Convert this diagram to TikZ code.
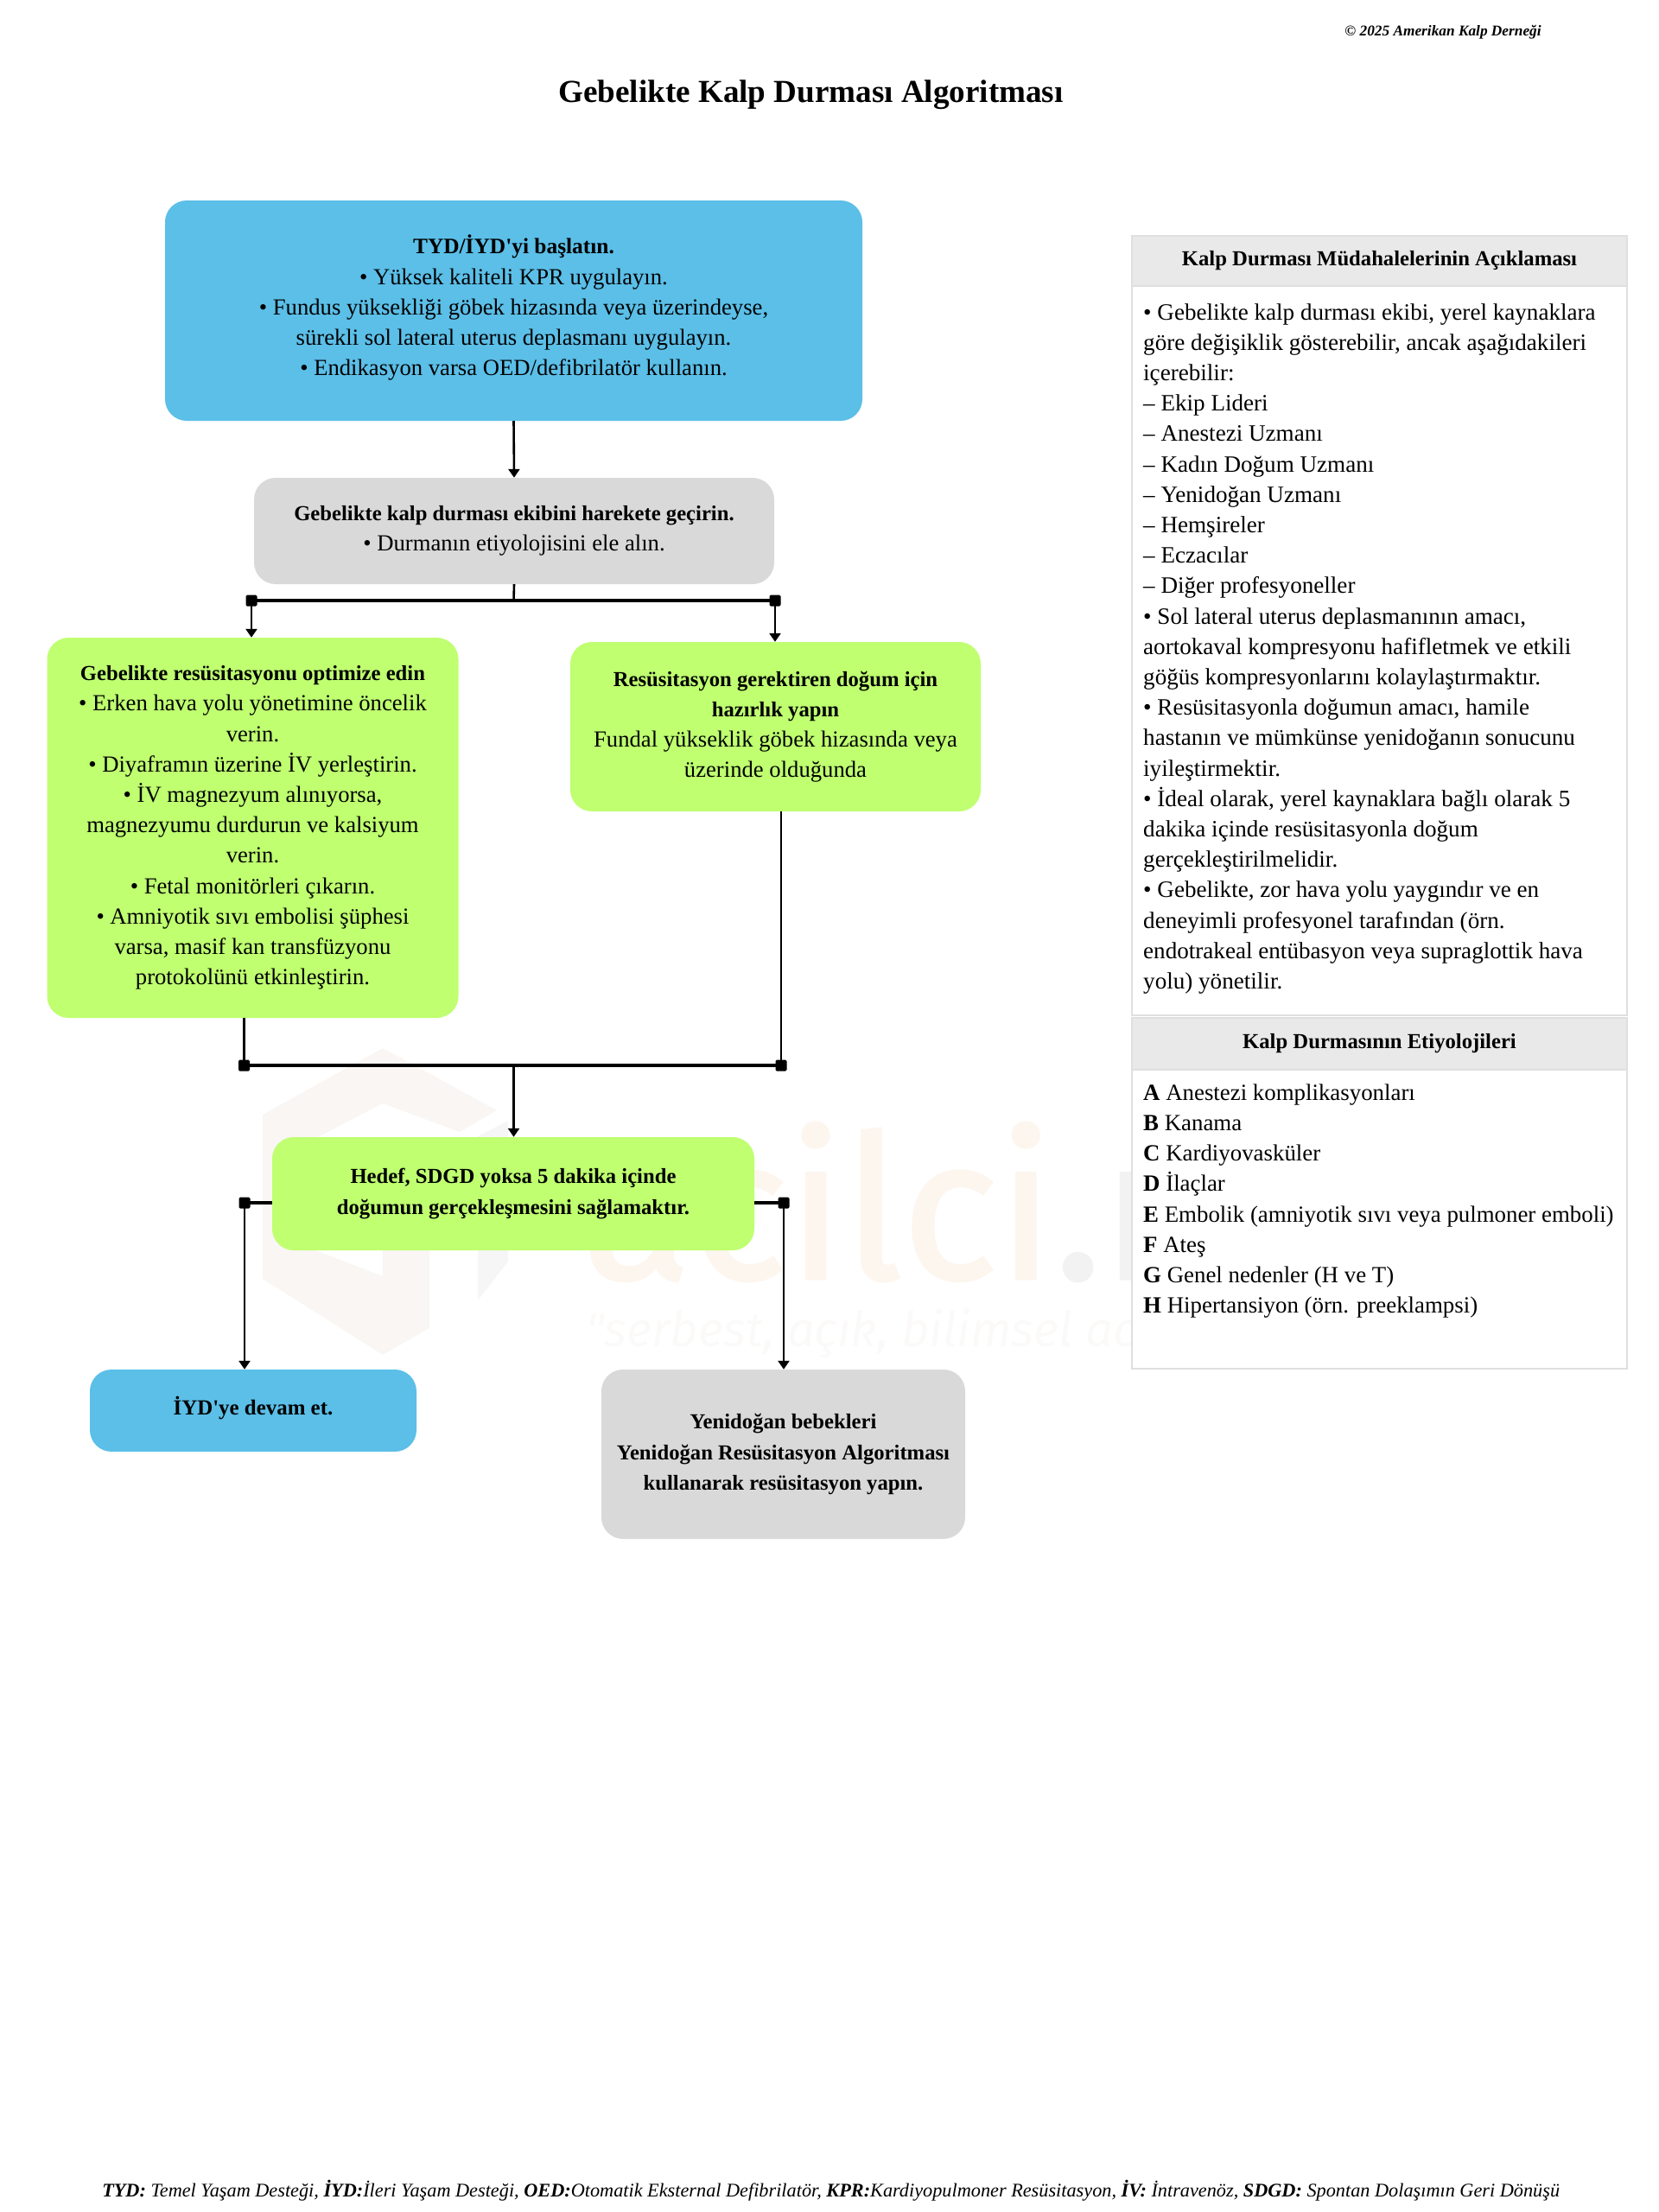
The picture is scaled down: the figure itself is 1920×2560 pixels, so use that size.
\documentclass[tikz,border=0pt]{standalone}
\usepackage{fontspec}
\usetikzlibrary{arrows.meta}
\newfontfamily\ser{Liberation Serif}
\newfontfamily\wmfont[RawFeature={embolden=1.4}]{Fira Sans}
\newfontfamily\wmtag{Fira Sans}
\definecolor{cblue}{HTML}{5BBFE8}
\definecolor{cgreen}{HTML}{BFFF70}
\definecolor{cgray}{HTML}{D9D9D9}
\definecolor{chead}{HTML}{E9E9E9}
\definecolor{cline}{HTML}{DFDFDF}
\definecolor{wmo}{HTML}{FDF6EF}
\definecolor{wmg}{HTML}{F3F2F2}
\definecolor{wmt}{HTML}{FBFAF9}
\definecolor{wml}{HTML}{F9F6F3}
\newcommand{\bh}[1]{{\bfseries\fontsize{24.67}{35.2}\selectfont #1}}
\tikzset{
  boxn/.style={rectangle,rounded corners=25pt,inner sep=0pt,align=center,
    font=\ser\fontsize{26.67}{35.2}\selectfont,text=black},
  panelhead/.style={rectangle,draw=cline,line width=2pt,fill=chead,inner sep=0pt,
    font=\ser\bfseries\fontsize{24.67}{35.2}\selectfont},
  panelbody/.style={rectangle,draw=cline,line width=2pt,fill=white},
  paneltext/.style={anchor=north west,inner sep=0pt,align=left,
    font=\ser\fontsize{27.1}{35.2}\selectfont},
  junc/.style={rectangle,fill=black,minimum size=13pt,inner sep=0pt,rounded corners=1.5pt},
  conn/.style={line width=2.6pt,draw=black},
  bar/.style={line width=3.6pt,draw=black},
  arr/.style={conn,-{Triangle[width=13pt,length=10pt]}}
}
\begin{document}
\begin{tikzpicture}[x=1pt,y=-1pt]
\useasboundingbox (0,0) rectangle (1920,2560);
% watermark
\fill[wml] (304,1290)--(443,1213)--(575,1285)--(532,1310)--(443,1277)--(360,1320)--cycle;
\fill[wml] (304,1290)--(360,1320)--(360,1445)--(443,1477)--(443,1568)--(304,1480)--cycle;
\fill[wml] (443,1440)--(497,1440)--(497,1537)--(443,1568)--cycle;
\fill[wmg!70!white] (553,1315)--(588,1297)--(588,1460)--(553,1505)--cycle;
\node[anchor=base west,inner sep=0pt,font=\wmfont\fontsize{232}{232}\selectfont] (wm) at (674,1480) {\textcolor{wmo}{acilci}\textcolor{wmg}{.n}};
\node[anchor=base west,inner sep=0pt,text=wmt,font=\wmtag\itshape\fontsize{56}{56}\selectfont] (wmtagn) at (678,1558) {"serbest, açık, bilimsel aci};
% title
\node[inner sep=0pt,font=\ser\bfseries\fontsize{37.1}{40}\selectfont] (title) at (938.5,110) {Gebelikte Kalp Durması Algoritması};
\node[anchor=base,inner sep=0pt,font=\ser\bfseries\itshape\fontsize{17.3}{20}\selectfont] (copy) at (1670,41) {© 2025 Amerikan Kalp Derneği};
\node[anchor=base,inner sep=0pt,font=\ser\itshape\fontsize{22.27}{24}\selectfont] (foot) at (961.7,2542) {\textbf{TYD:} Temel Yaşam Desteği, \textbf{İYD:}İleri Yaşam Desteği, \textbf{OED:}Otomatik Eksternal Defibrilatör, \textbf{KPR:}Kardiyopulmoner Resüsitasyon, \textbf{İV:} İntravenöz, \textbf{SDGD:} Spontan Dolaşımın Geri Dönüşü};
% flow boxes
\node[boxn,fill=cblue,minimum width=807pt,minimum height=255pt] (b1) at (594.5,359.5) {{\bfseries\fontsize{25.4}{35.2}\selectfont TYD/İYD'yi başlatın.}\\• Yüksek kaliteli KPR uygulayın.\\• Fundus yüksekliği göbek hizasında veya üzerindeyse,\\sürekli sol lateral uterus deplasmanı uygulayın.\\• Endikasyon varsa OED/defibrilatör kullanın.\rule[-12pt]{0pt}{12pt}};
\node[boxn,fill=cgray,minimum width=602pt,minimum height=123pt] (b2) at (595,614.5) {\bh{Gebelikte kalp durması ekibini harekete geçirin.}\\• Durmanın etiyolojisini ele alın.};
\node[boxn,fill=cgreen,minimum width=476pt,minimum height=440pt] (b3) at (292.5,958) {\bh{Gebelikte resüsitasyonu optimize edin}\\• Erken hava yolu yönetimine öncelik\\verin.\\• Diyaframın üzerine İV yerleştirin.\\• İV magnezyum alınıyorsa,\\magnezyumu durdurun ve kalsiyum\\verin.\\• Fetal monitörleri çıkarın.\\• Amniyotik sıvı embolisi şüphesi\\varsa, masif kan transfüzyonu\\protokolünü etkinleştirin.};
\node[boxn,fill=cgreen,minimum width=475pt,minimum height=196pt] (b4) at (897.5,841) {\bh{Resüsitasyon gerektiren doğum için}\\\bh{hazırlık yapın}\\Fundal yükseklik göbek hizasında veya\\üzerinde olduğunda};
\node[boxn,fill=cgreen,minimum width=558pt,minimum height=131pt] (b5) at (594,1381.5) {\bh{Hedef, SDGD yoksa 5 dakika içinde}\\\bh{doğumun gerçekleşmesini sağlamaktır.}};
\node[boxn,fill=cblue,minimum width=378pt,minimum height=95pt] (b6) at (293,1632.5) {{\bfseries\fontsize{24.9}{35.2}\selectfont İYD'ye devam et.}\rule[-11pt]{0pt}{11pt}};
\node[boxn,fill=cgray,minimum width=421pt,minimum height=196pt] (b7) at (906.5,1683) {\bh{Yenidoğan bebekleri}\\\bh{Yenidoğan Resüsitasyon Algoritması}\\\bh{kullanarak resüsitasyon yapın.}};
% junctions
\node[junc] (j1) at (291,695) {};
\node[junc] (j2) at (897,695) {};
\coordinate (j0) at (594.5,695);
\node[junc] (j3) at (282.5,1233) {};
\node[junc] (j4) at (904,1233) {};
\coordinate (j5) at (594.5,1233);
\node[junc] (j6) at (283,1392) {};
\node[junc] (j7) at (907,1392) {};
% connectors
\draw[arr] (b1.south) -- (b2.north);
\draw[conn] (b2.south) -- (j0);
\draw[bar] (j1.center) -- (j2.center);
\draw[arr] (j1.center) -- (j1 |- b3.north);
\draw[arr] (j2.center) -- (j2 |- b4.north);
\draw[conn] (j3 |- b3.south) -- (j3.center);
\draw[conn] (j4 |- b4.south) -- (j4.center);
\draw[bar] (j3.center) -- (j4.center);
\draw[arr] (j5) -- (j5 |- b5.north);
\draw[bar] (b5.west |- j6) -- (j6.center);
\draw[bar] (b5.east |- j7) -- (j7.center);
\draw[arr] (j6.center) -- (j6 |- b6.north);
\draw[arr] (j7.center) -- (j7 |- b7.north);
% panels
\path[panelbody] (1310,331) rectangle (1883,1175);
\node[panelhead,minimum width=573pt,minimum height=58pt] (h1) at (1596.5,302) {\raisebox{-1pt}{Kalp Durması Müdahalelerinin Açıklaması}};
\node[paneltext] (t1) at (1323,351) {• Gebelikte kalp durması ekibi, yerel kaynaklara\\göre değişiklik gösterebilir, ancak aşağıdakileri\\içerebilir:\\– Ekip Lideri\\– Anestezi Uzmanı\\– Kadın Doğum Uzmanı\\– Yenidoğan Uzmanı\\– Hemşireler\\– Eczacılar\\– Diğer profesyoneller\\• Sol lateral uterus deplasmanının amacı,\\aortokaval kompresyonu hafifletmek ve etkili\\göğüs kompresyonlarını kolaylaştırmaktır.\\• Resüsitasyonla doğumun amacı, hamile\\hastanın ve mümkünse yenidoğanın sonucunu\\iyileştirmektir.\\• İdeal olarak, yerel kaynaklara bağlı olarak 5\\dakika içinde resüsitasyonla doğum\\gerçekleştirilmelidir.\\• Gebelikte, zor hava yolu yaygındır ve en\\deneyimli profesyonel tarafından (örn.\\endotrakeal entübasyon veya supraglottik hava\\yolu) yönetilir.};
\path[panelbody] (1310,1238) rectangle (1883,1584);
\node[panelhead,minimum width=573pt,minimum height=60pt] (h2) at (1596.5,1208) {Kalp Durmasının Etiyolojileri};
\node[paneltext,font=\ser\fontsize{26.85}{35.2}\selectfont] (t2) at (1323,1254.5) {\textbf{A} Anestezi komplikasyonları\\\textbf{B} Kanama\\\textbf{C} Kardiyovasküler\\\textbf{D} İlaçlar\\\textbf{E} Embolik (amniyotik sıvı veya pulmoner emboli)\\\textbf{F} Ateş\\\textbf{G} Genel nedenler (H ve T)\\\textbf{H} Hipertansiyon (örn. preeklampsi)};
\end{tikzpicture}
\end{document}
